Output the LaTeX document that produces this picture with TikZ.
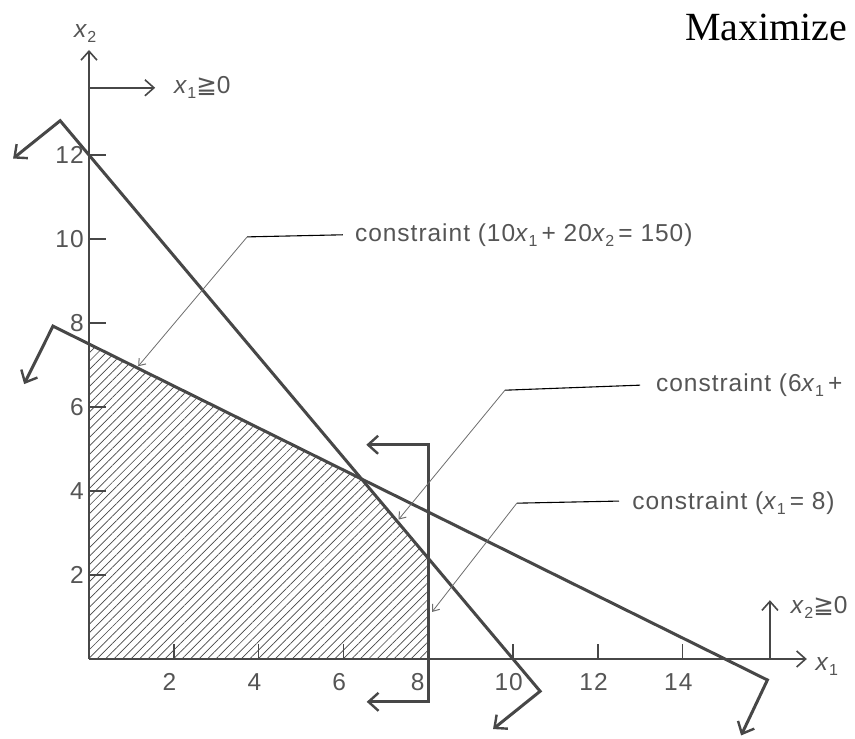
\documentclass[tikz,border=0pt]{standalone}
\usepackage{fontspec}
\setmainfont{Liberation Sans}
\newfontfamily\lblfont[LetterSpace=4]{Liberation Sans}
\newfontfamily\serifface{Liberation Serif}
\newfontfamily\djv{DejaVu Sans}
\usetikzlibrary{arrows.meta,patterns.meta,calc}
\definecolor{ink}{HTML}{474747}
\definecolor{txt}{HTML}{555555}
\definecolor{thin}{HTML}{6E6E6E}
\newcommand\vx[1]{\textit{x}\kern-0.5pt\raisebox{-5pt}{\fontsize{16}{16}\selectfont #1}}
\newcommand\geqq{{\djv ≧}}
\begin{document}
\begin{tikzpicture}[x=1pt,y=1pt,
  lbl/.style={text=txt, font=\lblfont\fontsize{24.5}{28}\selectfont, inner sep=0pt},
  axisline/.style={draw=ink, line width=1.6pt},
  tickline/.style={draw=ink, line width=1.4pt},
  bound/.style={draw=ink, line width=3pt, line join=miter},
  bigbarb/.tip={Straight Barb[length=10pt,width=18pt,line width=2.4pt]},
  axbarb/.tip={Straight Barb[length=9pt,width=16pt,line width=1.6pt]},
  smallbarb/.tip={Straight Barb[length=6pt,width=9pt,line width=1pt]},
  leader/.style={draw=thin, line width=0.8pt, -{smallbarb}},
  leaderbar/.style={draw=black, line width=1.1pt}
]
\clip (0,0) rectangle (855,739);
\fill[white] (0,0) rectangle (855,739);
\begin{scope}[shift={(89,80)}, x=42.4pt, y=42pt]
  % named points
  \coordinate (O) at (0,0);
  \coordinate (Xend) at (16.93,0);
  \coordinate (Yend) at (0,14.5);
  \coordinate (P1) at (8,0);
  \coordinate (P2) at (8,2.4);
  \coordinate (P3) at (6.4286,4.2857);
  \coordinate (P4) at (0,7.5);
  % hatched feasible region
  \fill[pattern={Lines[angle=45,distance=6pt,line width=0.7pt]}, pattern color=ink]
    (O) -- (P1) -- (P2) -- (P3) -- (P4) -- cycle;
  % axes
  \draw[axisline, -{axbarb}] (O) -- (Xend);
  \draw[axisline, -{axbarb}] (O) -- (Yend);
  \foreach \k in {2,4,...,12} {
    \draw[tickline] (0,\k) -- (0.4,\k);
    \node[lbl, anchor=east] (yl\k) at (-0.12,\k) {\k};
  }
  \foreach \k in {2,4,6,10,12,14} {
    \draw[tickline] (\k,0) -- (\k,0.36);
    \node[lbl] (xl\k) at (\k-0.1,-0.55) {\k};
  }
  \node[lbl] (xl8) at (7.75,-0.55) {8};
  \node[lbl] (ylab) at (-0.09,14.9) {\vx{2}};
  \node[lbl] (xlab) at (17.4,-0.17) {\vx{1}};
  % nonnegativity arrows
  \coordinate (nnA) at (0,13.6);
  \coordinate (nnAt) at (1.56,13.6);
  \draw[axisline, -{axbarb}] (nnA) -- (nnAt);
  \node[lbl, anchor=west] (nnAl) at (2.0,13.6) {\vx{1}\geqq 0};
  \coordinate (nnB) at (16.06,0);
  \coordinate (nnBt) at (16.06,1.4);
  \draw[axisline, -{axbarb}] (nnB) -- (nnBt);
  \node[lbl, anchor=west] (nnBl) at (16.55,1.22) {\vx{2}\geqq 0};
  % constraint 10x1+20x2=150
  \coordinate (A1) at (-0.85,7.925);
  \coordinate (A2) at (16.0,-0.5);
  \draw[bound, {bigbarb}-{bigbarb}] ($(A1)+(-0.68,-1.38)$) -- (A1) -- (A2) -- ($(A2)+(-0.62,-1.32)$);
  % constraint 6x1+5x2=60
  \coordinate (B1) at (-0.68,12.816);
  \coordinate (B2) at (10.64,-0.768);
  \draw[bound, {bigbarb}-{bigbarb}] ($(B1)+(-1.11,-0.9)$) -- (B1) -- (B2) -- ($(B2)+(-1.11,-0.9)$);
  % constraint x1=8
  \coordinate (C1) at (8,5.1);
  \coordinate (C2) at (8,-1.02);
  \draw[bound, {bigbarb}-{bigbarb}] (6.54,5.1) -- (C1) -- (C2) -- (6.55,-1.02);
  % leaders
  \coordinate (L1s) at (3.73,10.05);
  \coordinate (L1e) at (5.99,10.1);
  \coordinate (L1t) at (1.16,6.97);
  \node[lbl, anchor=west] (T1) at (6.27,10.1) {constraint (10\vx{1}\,+ 20\vx{2}\,= 150)};
  \draw[leaderbar] (L1s) -- (L1e);
  \draw[leader] (L1s) -- (L1t);
  \coordinate (L2s) at (9.81,6.40);
  \coordinate (L2e) at (13.0,6.52);
  \coordinate (L2t) at (7.3,3.32);
  \node[lbl, anchor=west] (T2) at (13.37,6.52) {constraint (6\vx{1}\,+};
  \draw[leaderbar] (L2s) -- (L2e);
  \draw[leader] (L2s) -- (L2t);
  \coordinate (L3s) at (10.09,3.71);
  \coordinate (L3e) at (12.5,3.76);
  \coordinate (L3t) at (8.09,1.12);
  \node[lbl, anchor=west] (T3) at (12.81,3.71) {constraint (\vx{1}\,= 8)};
  \draw[leaderbar] (L3s) -- (L3e);
  \draw[leader] (L3s) -- (L3t);
\end{scope}
\node[font=\serifface\fontsize{40}{44}\selectfont, anchor=west, inner sep=0pt] (maxim) at (685,712) {Maximize};
\end{tikzpicture}
\end{document}
